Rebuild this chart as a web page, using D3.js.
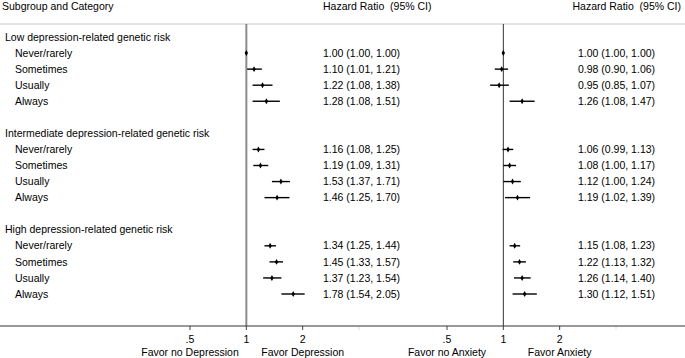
<!DOCTYPE html>
<html>
<head>
<meta charset="utf-8">
<script src="https://cdn.jsdelivr.net/npm/d3@7"></script>
<style>
  body { margin: 0; background: #fff; }
  svg { display: block; }
</style>
</head>
<body>
<div id="vizcontainer"></div>
<script>
const
  width = 685,
  height = 358,
  font = '"Liberation Sans", Arial, sans-serif',
  fontSize = 10.5
  ;

// rows of the table, top to bottom
const groups = [
  'Low depression-related genetic risk',
  'Intermediate depression-related genetic risk',
  'High depression-related genetic risk'
];
const categories = ['Never/rarely', 'Sometimes', 'Usually', 'Always'];

// depression: hazard ratio, lower, upper (per group, per category)
const depHR = [1.00, 1.10, 1.22, 1.28, 1.16, 1.19, 1.53, 1.46, 1.34, 1.45, 1.37, 1.78];
const depLo = [1.00, 1.01, 1.08, 1.08, 1.08, 1.09, 1.37, 1.25, 1.25, 1.33, 1.23, 1.54];
const depHi = [1.00, 1.21, 1.38, 1.51, 1.25, 1.31, 1.71, 1.70, 1.44, 1.57, 1.54, 2.05];

// anxiety
const anxHR = [1.00, 0.98, 0.95, 1.26, 1.06, 1.08, 1.12, 1.19, 1.15, 1.22, 1.26, 1.30];
const anxLo = [1.00, 0.90, 0.85, 1.08, 0.99, 1.00, 1.00, 1.02, 1.08, 1.13, 1.14, 1.12];
const anxHi = [1.00, 1.06, 1.07, 1.47, 1.13, 1.17, 1.24, 1.39, 1.23, 1.32, 1.40, 1.51];

const tickValues = [0.5, 1, 2, 4];
const tickLabels = ['.5', '1', '2', ''];

// build rows ('blank' = spacer row between groups)
let rows = [];
groups.forEach((g, gi) => {
  rows.push({ type: 'header', label: g });
  categories.forEach((c, ci) => {
    const i = gi * 4 + ci;
    rows.push({
      type: 'item', label: c,
      dep: { hr: depHR[i], lo: depLo[i], hi: depHi[i] },
      anx: { hr: anxHR[i], lo: anxLo[i], hi: anxHi[i] }
    });
  });
  if (gi < groups.length - 1) rows.push({ type: 'blank', label: '' });
});
rows.forEach((r, i) => r.idx = i);

const topLine = 24, axisY = 326;

const y = d3.scalePoint()
  .domain(rows.map(r => r.idx))
  .range([37, 294]);

const xDep = d3.scaleLog().domain([0.5, 4]).range([190, 359]);
const xAnx = d3.scaleLog().domain([0.5, 4]).range([447, 616]);

const svg = d3.select('#vizcontainer')
  .append('svg')
  .attr('width', width)
  .attr('height', height)
  .attr('font-family', font)
  .attr('font-size', fontSize);

const fmt = d3.format('.2f');

// column headers
svg.append('text').text('Subgroup and Category')
  .attr('x', 2).attr('y', 10);
svg.append('text').text('Hazard Ratio  (95% CI)')
  .attr('x', 323).attr('y', 10).attr('xml:space', 'preserve');
svg.append('text').text('Hazard Ratio  (95% CI)')
  .attr('x', 681).attr('y', 10).attr('text-anchor', 'end').attr('xml:space', 'preserve');

// top rule
svg.append('line')
  .attr('x1', 0).attr('x2', width)
  .attr('y1', topLine).attr('y2', topLine)
  .attr('stroke', '#c8c8c8').attr('stroke-width', 1);

// row labels
svg.append('g').selectAll('text')
  .data(rows.filter(r => r.type !== 'blank'))
  .join('text')
  .attr('x', d => d.type === 'header' ? 5 : 15)
  .attr('y', d => y(d.idx))
  .attr('dy', '0.35em')
  .text(d => d.label);

function panel(x, key, labelX, lineColor, lineWidth, favorLeft, favorRight) {
  // reference line at 1
  svg.append('line')
    .attr('x1', x(1)).attr('x2', x(1))
    .attr('y1', topLine).attr('y2', axisY)
    .attr('stroke', lineColor).attr('stroke-width', lineWidth);

  const items = rows.filter(r => r.type === 'item');
  const g = svg.append('g');

  g.selectAll('line.ci')
    .data(items)
    .join('line')
    .attr('class', 'ci')
    .attr('x1', d => x(d[key].lo))
    .attr('x2', d => x(d[key].hi))
    .attr('y1', d => y(d.idx))
    .attr('y2', d => y(d.idx))
    .attr('stroke', '#000')
    .attr('stroke-width', 1.4);

  g.selectAll('path.pt')
    .data(items)
    .join('path')
    .attr('class', 'pt')
    .attr('d', d3.symbol(d3.symbolDiamond, 10))
    .attr('transform', d => `translate(${x(d[key].hr)},${y(d.idx)})`)
    .attr('fill', '#000');

  g.selectAll('text')
    .data(items)
    .join('text')
    .attr('x', labelX)
    .attr('y', d => y(d.idx))
    .attr('dy', '0.35em')
    .text(d => `${fmt(d[key].hr)} (${fmt(d[key].lo)}, ${fmt(d[key].hi)})`);

  // axis ticks
  const ax = svg.append('g');
  ax.selectAll('line')
    .data(tickValues)
    .join('line')
    .attr('x1', d => x(d)).attr('x2', d => x(d))
    .attr('y1', axisY).attr('y2', axisY + 4)
    .attr('stroke', (d, i) => tickLabels[i] === '' ? '#e0e0e0' : '#444')
    .attr('stroke-width', 1);
  ax.selectAll('text')
    .data(tickValues)
    .join('text')
    .attr('x', d => x(d))
    .attr('y', axisY + 17)
    .attr('text-anchor', 'middle')
    .text((d, i) => tickLabels[i]);

  svg.append('text').text(favorLeft)
    .attr('x', x(0.5)).attr('y', axisY + 30).attr('text-anchor', 'middle');
  svg.append('text').text(favorRight)
    .attr('x', x(2)).attr('y', axisY + 30).attr('text-anchor', 'middle');
}

panel(xDep, 'dep', 323, '#8c8c8c', 2, 'Favor no Depression', 'Favor Depression');
panel(xAnx, 'anx', 578, '#333', 1, 'Favor no Anxiety', 'Favor Anxiety');

// bottom axis line
svg.append('line')
  .attr('x1', 0).attr('x2', width)
  .attr('y1', axisY).attr('y2', axisY)
  .attr('stroke', '#333').attr('stroke-width', 1);
</script>
</body>
</html>
